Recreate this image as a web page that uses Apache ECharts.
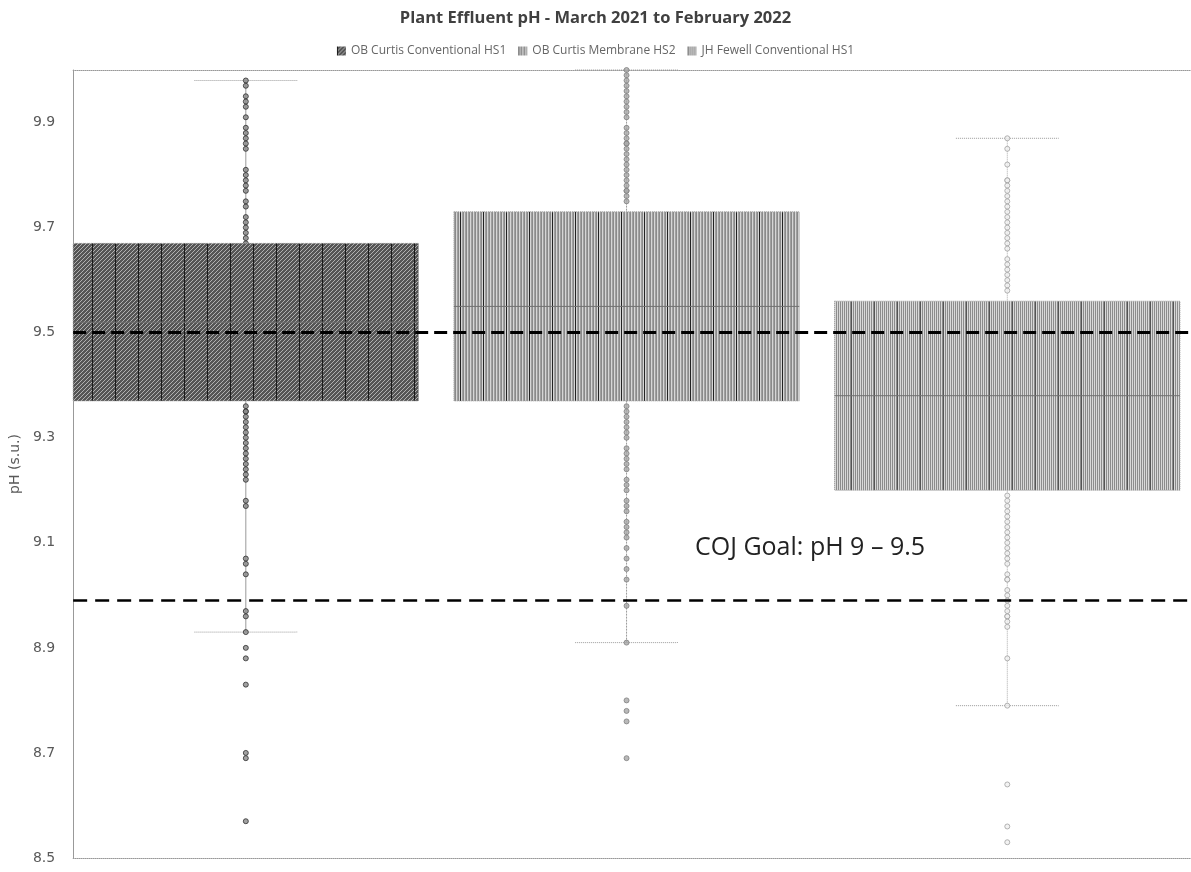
<!DOCTYPE html>
<html><head><meta charset="utf-8">
<script src="https://cdn.jsdelivr.net/npm/echarts@6/dist/echarts.min.js"></script>
<style>html,body{margin:0;padding:0;background:#fff}#c{width:1191px;height:872px}</style>
</head><body><div id="c"></div>
<script>
var categories = ['OB Curtis Conventional HS1', 'OB Curtis Membrane HS2', 'JH Fewell Conventional HS1'];
var whiskerLow = [8.93, 8.91, 8.79];
var q1 = [9.37, 9.37, 9.20];
var median = [9.52, 9.55, 9.38];
var q3 = [9.67, 9.73, 9.56];
var whiskerHigh = [9.98, 10.00, 9.87];
var pointsOBConv = [9.98, 9.97, 9.95, 9.94, 9.93, 9.91, 9.89, 9.88, 9.87, 9.86, 9.85, 9.81, 9.80, 9.79, 9.78, 9.77, 9.75, 9.74, 9.72, 9.71, 9.70, 9.69, 9.68, 9.67, 9.66, 9.65,
  9.36, 9.35, 9.35, 9.34, 9.33, 9.32, 9.31, 9.30, 9.29, 9.28, 9.27, 9.26, 9.25, 9.24, 9.23, 9.22, 9.18, 9.17, 9.07, 9.06, 9.04, 8.97, 8.96, 8.93,
  8.90, 8.88, 8.83, 8.70, 8.69, 8.57];
var pointsOBMem = [10.00, 9.99, 9.98, 9.97, 9.96, 9.95, 9.94, 9.93, 9.92, 9.91, 9.89, 9.88, 9.87, 9.86, 9.86, 9.85, 9.84, 9.83, 9.82, 9.81, 9.80, 9.79, 9.78, 9.77, 9.77, 9.76, 9.75,
  9.36, 9.35, 9.34, 9.33, 9.32, 9.31, 9.30, 9.28, 9.27, 9.26, 9.25, 9.24, 9.22, 9.21, 9.20, 9.18, 9.17, 9.16, 9.14, 9.13, 9.12, 9.11, 9.09, 9.07, 9.05, 9.03, 8.98, 8.91,
  8.80, 8.78, 8.76, 8.69];
var pointsJHConv = [9.87, 9.85, 9.82, 9.79, 9.79, 9.78, 9.77, 9.76, 9.75, 9.74, 9.73, 9.72, 9.71, 9.70, 9.69, 9.68, 9.67, 9.66, 9.64, 9.63, 9.62, 9.61, 9.60, 9.59, 9.58,
  9.19, 9.18, 9.17, 9.16, 9.15, 9.14, 9.13, 9.12, 9.11, 9.10, 9.09, 9.08, 9.07, 9.06, 9.04, 9.03, 9.03, 9.01, 9.00, 8.99, 8.98, 8.97, 8.96, 8.96, 8.95, 8.94, 8.88, 8.79,
  8.64, 8.56, 8.53];
var goalLines = [9.5, 8.99];
var goalText = 'COJ Goal: pH 9 \u2013 9.5';

function makePattern(w, h, draw) {
  var c = document.createElement('canvas'); c.width = w; c.height = h;
  var ctx = c.getContext('2d'); draw(ctx, w, h);
  return { image: c, repeat: 'repeat' };
}
var pat1 = makePattern(23, 4, function (ctx, w, h) {
  ctx.fillStyle = '#555555'; ctx.fillRect(0, 0, w, h);
  ctx.fillStyle = '#b0b0b0';
  for (var y = 0; y < h; y++) for (var x = 0; x < w; x++) if (((x + y) % 4) === 0) ctx.fillRect(x, y, 1, 1);
  ctx.fillStyle = '#1a1a1a'; ctx.fillRect(0, 0, 1, h);
});
var pat2 = makePattern(23, 1, function (ctx, w, h) {
  var cols = ['#8a8a8a', '#d6d6d6', '#a0a0a0'];
  for (var x = 0; x < w; x++) { ctx.fillStyle = cols[x % 3]; ctx.fillRect(x, 0, 1, h); }
  ctx.fillStyle = '#222'; ctx.fillRect(0, 0, 1, h);
});
var pat3 = makePattern(23, 2, function (ctx, w, h) {
  for (var x = 0; x < w; x++) { ctx.fillStyle = (x % 2 === 0) ? '#8c8c8c' : '#d9d9d9'; ctx.fillRect(x, 0, 1, h); }
  ctx.fillStyle = '#555'; ctx.fillRect(0, 0, 1, h);
});
var patterns = [pat1, pat2, pat3];
var legendColors = ['#5c5c5c', '#9a9a9a', '#a8a8a8'];
var whiskerStyles = [
  { stroke: '#9a9a9a', lineWidth: 1 },
  { stroke: '#9a9a9a', lineWidth: 1, lineDash: [2, 1] },
  { stroke: '#aaaaaa', lineWidth: 1, lineDash: [1, 1] }
];
var pointStyles = [
  { color: '#8a8a8a', borderColor: '#2e2e2e' },
  { color: '#a8a8a8', borderColor: '#808080' },
  { color: '#f0f0f0', borderColor: '#a0a0a0' }
];
var BOX_HALF = 0.4535, CAP_HALF = 0.135;

var chart = echarts.init(document.getElementById('c'), null, { renderer: 'canvas' });

var series = [];
series.push({
  type: 'custom', z: 1, silent: true,
  data: categories.map(function (c, i) { return [i, whiskerLow[i], whiskerHigh[i]]; }),
  renderItem: function (params, api) {
    var i = api.value(0);
    var lo = api.coord([i, api.value(1)]), hi = api.coord([i, api.value(2)]);
    var cw = api.size([CAP_HALF, 0])[0];
    var ws = whiskerStyles[params.dataIndex];
    return { type: 'group', children: [
      { type: 'line', shape: { x1: lo[0], y1: lo[1], x2: hi[0], y2: hi[1] }, style: ws },
      { type: 'line', shape: { x1: lo[0] - cw, y1: lo[1], x2: lo[0] + cw, y2: lo[1] }, style: { stroke: '#9a9a9a', lineWidth: 1, lineDash: [1, 1] } },
      { type: 'line', shape: { x1: hi[0] - cw, y1: hi[1], x2: hi[0] + cw, y2: hi[1] }, style: { stroke: '#9a9a9a', lineWidth: 1, lineDash: [1, 1] } }
    ] };
  }
});
[pointsOBConv, pointsOBMem, pointsJHConv].forEach(function (arr, i) {
  series.push({
    type: 'scatter', z: 2, silent: true, symbol: 'circle', symbolSize: 5,
    itemStyle: { color: pointStyles[i].color, borderColor: pointStyles[i].borderColor, borderWidth: 1 },
    data: arr.map(function (v) { return [i, v]; })
  });
});
categories.forEach(function (name, i) {
  series.push({
    name: name, type: 'custom', z: 3, silent: true,
    itemStyle: { color: legendColors[i] },
    data: [[i, q1[i], median[i], q3[i]]],
    renderItem: function (params, api) {
      var x = api.value(0);
      var a = api.coord([x, api.value(1)]), m = api.coord([x, api.value(2)]), b = api.coord([x, api.value(3)]);
      var hw = api.size([BOX_HALF, 0])[0];
      return { type: 'group', children: [
        { type: 'rect', shape: { x: a[0] - hw, y: b[1], width: hw * 2, height: a[1] - b[1] }, style: { fill: patterns[i], stroke: '#a0a0a0', lineWidth: 1, lineDash: [1, 1] } },
        { type: 'line', shape: { x1: m[0] - hw, y1: m[1], x2: m[0] + hw, y2: m[1] }, style: { stroke: '#707070', lineWidth: 1 } }
      ] };
    }
  });
});
series.push({
  type: 'line', z: 5, silent: true, data: [],
  markLine: {
    silent: true, symbol: 'none', label: { show: false },
    data: [
      { yAxis: goalLines[0], lineStyle: { color: '#000', width: 3, type: [13, 6] } },
      { yAxis: goalLines[1], lineStyle: { color: '#000', width: 2.5, type: [14, 8] } }
    ]
  }
});

chart.setOption({
  animation: false,
  title: { text: 'Plant Effluent pH - March 2021 to February 2022', left: 'center', top: 5,
    textStyle: { fontFamily: 'Open Sans', fontWeight: 'bold', fontSize: 16.5, color: '#404040' } },
  legend: { top: 40, left: 'center', icon: 'rect', itemWidth: 9, itemHeight: 9, itemGap: 12,
    data: categories.map(function (n, i) { return { name: n, itemStyle: { color: patterns[i] } }; }),
    textStyle: { fontFamily: 'Open Sans', fontSize: 12, color: '#666' } },
  grid: { left: 71, right: 0, top: 70, bottom: 14 },
  xAxis: [
    { type: 'value', min: -0.4535, max: 2.4825, axisLabel: { show: false }, axisTick: { show: false }, splitLine: { show: false },
      axisLine: { show: true, onZero: false, lineStyle: { color: '#999', type: 'dotted' } } },
    { type: 'value', position: 'top', min: -0.4535, max: 2.4825, axisLabel: { show: false }, axisTick: { show: false }, splitLine: { show: false },
      axisLine: { show: true, onZero: false, lineStyle: { color: '#999', type: 'dotted' } } }
  ],
  yAxis: { type: 'value', min: 8.5, max: 10.0, interval: 0.1, position: 'left',
    name: 'pH (s.u.)', nameLocation: 'middle', nameGap: 50,
    nameTextStyle: { fontFamily: 'DejaVu Sans', fontSize: 14, color: '#595959' },
    axisLine: { show: true, onZero: false, lineStyle: { color: '#999' } }, axisTick: { show: false }, splitLine: { show: false },
    axisLabel: { interval: 1, margin: 18, fontFamily: 'DejaVu Sans', fontSize: 14, color: '#595959',
      formatter: function (v) { return Math.round(v * 10) % 2 === 1 ? v.toFixed(1) : ''; } } },
  graphic: [{ type: 'text', left: 695, top: 535, style: { text: goalText, fontFamily: 'Open Sans', fontSize: 25, fill: '#222' } }],
  series: series
});
</script></body></html>
